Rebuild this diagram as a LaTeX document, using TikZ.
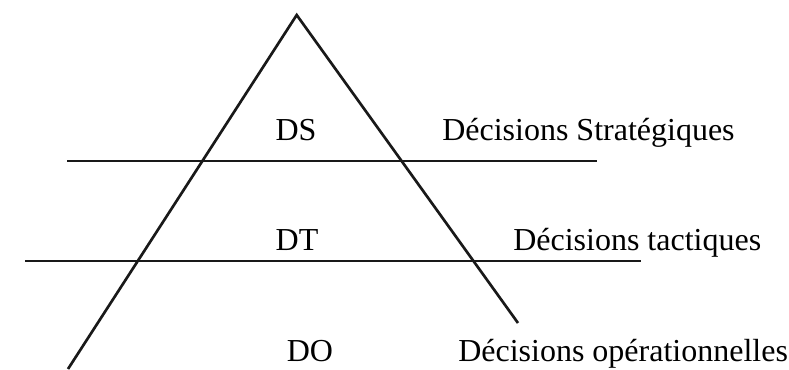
\documentclass[tikz,border=0pt]{standalone}
\usepackage{fontspec}
\setmainfont{Liberation Serif}
\begin{document}
\begin{tikzpicture}[x=0.75pt,y=-0.75pt]
                    \tikzset{every node/.style={font=\fontsize{24}{26}\selectfont, inner sep=0pt}}
                    \tikzset{niveau/.style={anchor=base}}
                    \tikzset{legende/.style={anchor=base west}}
                    \tikzset{trait/.style={line width=2pt, black!90}}
                    \useasboundingbox (0,0) rectangle (789,369);
                    % pyramide
                    \coordinate (sommet) at (296.7,15);
                    \coordinate (basG) at (68,369);
                    \coordinate (basD) at (518,323);
                    \draw[trait, line join=miter] (basG) -- (sommet) -- (basD);
                    % separations
                    \coordinate (s1g) at (67,161);
                    \coordinate (s1d) at (597,161);
                    \coordinate (s2g) at (25,261);
                    \coordinate (s2d) at (641,261);
                    \draw[trait] (s1g) -- (s1d);
                    \draw[trait] (s2g) -- (s2d);
                    % niveaux
                    \node[niveau] (ds) at (296,140) {DS};
                    \node[niveau] (dt) at (297,250) {DT};
                    \node[niveau] (do) at (310,361) {DO};
                    \node[legende] (lds) at (442,140) {Décisions Stratégiques};
                    \node[legende] (ldt) at (513,250) {Décisions tactiques};
                    \node[legende] (ldo) at (458,361) {Décisions opérationnelles};
                    \end{tikzpicture}
\end{document}
